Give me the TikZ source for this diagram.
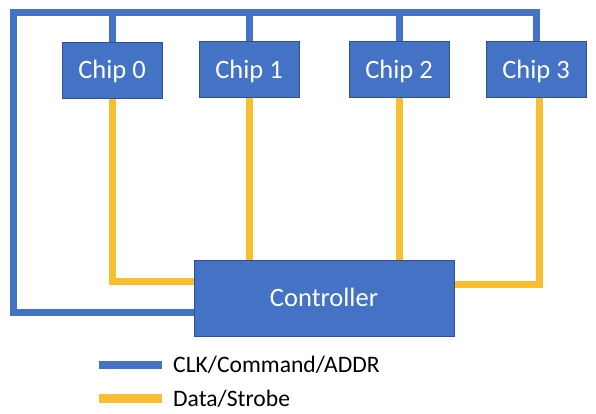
\documentclass[tikz,border=0pt]{standalone}
\usepackage{fontspec}
\setmainfont{Carlito}
\usetikzlibrary{backgrounds}
\definecolor{boxblue}{HTML}{4472C4}
\definecolor{boxedge}{HTML}{2F528F}
\definecolor{busyellow}{RGB}{248,192,48}
\tikzset{
  chipbox/.style={draw=boxedge, line width=0.9pt, fill=boxblue, text=white,
    minimum width=100pt, minimum height=56pt, inner sep=0pt,
    text height=17pt, text depth=0pt,
    font=\fontsize{26.5}{30}\selectfont},
  ctrlbox/.style={chipbox, minimum width=260pt, minimum height=76pt},
  bluebus/.style={draw=boxblue, line width=7pt, line join=miter},
  yellowbus/.style={draw=busyellow, line width=7pt, line join=miter},
  legendtext/.style={anchor=base west, inner sep=0pt, text=black,
    font=\fontsize{23.6}{28}\selectfont}
}
\begin{document}
\begin{tikzpicture}[x=1pt, y=-1pt]
\useasboundingbox (0,0) rectangle (596,413);

\node[chipbox] (chip0) at (112,70) {Chip 0};
\node[chipbox] (chip1) at (249,69.5) {Chip 1};
\node[chipbox] (chip2) at (399,69.5) {Chip 2};
\node[chipbox] (chip3) at (536,69.5) {Chip 3};
\node[ctrlbox] (ctrl) at (324,298) {Controller};

\coordinate (tl) at (13.5,12);
\coordinate (bl) at (13.5,312);
\coordinate (ylow) at (0,281);
\coordinate (yrt) at (539,284);

\begin{scope}[on background layer]
  \fill[white] (0,0) rectangle (596,413);
  \draw[bluebus] (ctrl.west |- bl) -- (bl) -- (tl) -| (chip3.north);
  \draw[bluebus] (chip0.north) -- (chip0.north |- tl);
  \draw[bluebus] (chip1.north) -- (chip1.north |- tl);
  \draw[bluebus] (chip2.north) -- (chip2.north |- tl);

  \draw[yellowbus] (chip0.south) |- (ctrl.west |- ylow);
  \draw[yellowbus] (chip1.south) -- (chip1.south |- ctrl.north);
  \draw[yellowbus] (chip2.south) -- (chip2.south |- ctrl.north);
  \draw[yellowbus] (yrt |- chip3.south) -- (yrt) -- (ctrl.east |- yrt);
\end{scope}

\coordinate (lb1) at (99,365);
\coordinate (lb2) at (162,365);
\coordinate (ly1) at (99,398.5);
\coordinate (ly2) at (162,398.5);
\draw[draw=boxblue, line width=8pt] (lb1) -- (lb2);
\draw[draw=busyellow, line width=9pt] (ly1) -- (ly2);
\node[legendtext] (lgblue) at (173,372) {CLK/Command/ADDR};
\node[legendtext] (lgyellow) at (173,406) {Data/Strobe};
\end{tikzpicture}
\end{document}
